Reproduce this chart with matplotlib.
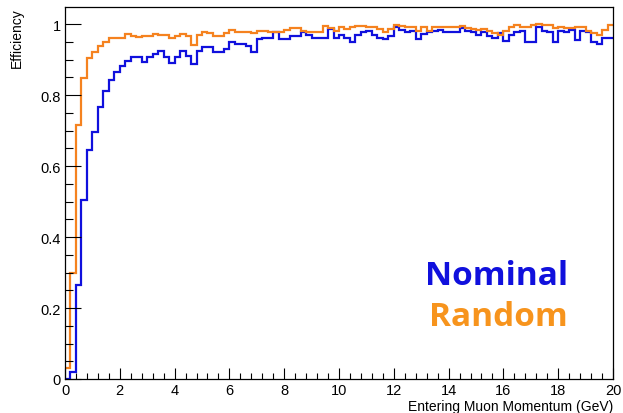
import numpy as np
import matplotlib
matplotlib.use("Agg")
import matplotlib.pyplot as plt
from matplotlib.ticker import MultipleLocator, FuncFormatter

# binning: 100 bins from 0 to 20 GeV
x_min, x_max, n_bins = 0.0, 20.0, 100

# efficiency per bin
nominal = [
    0.000, 0.020, 0.265, 0.503, 0.645, 0.696, 0.766, 0.810, 0.843, 0.866,
    0.883, 0.897, 0.906, 0.906, 0.894, 0.906, 0.915, 0.925, 0.908, 0.889,
    0.908, 0.925, 0.910, 0.887, 0.925, 0.935, 0.934, 0.922, 0.922, 0.930,
    0.950, 0.943, 0.943, 0.939, 0.922, 0.959, 0.962, 0.962, 0.978, 0.959,
    0.959, 0.965, 0.965, 0.977, 0.969, 0.962, 0.962, 0.962, 0.986, 0.962,
    0.970, 0.962, 0.950, 0.970, 0.978, 0.981, 0.970, 0.962, 0.958, 0.967,
    0.993, 0.983, 0.977, 0.981, 0.958, 0.972, 0.977, 0.981, 0.984, 0.977,
    0.977, 0.977, 0.989, 0.981, 0.977, 0.970, 0.977, 0.965, 0.962, 0.975,
    0.953, 0.969, 0.977, 0.979, 0.948, 0.948, 0.993, 0.979, 0.977, 0.948,
    0.981, 0.977, 0.984, 0.955, 0.981, 0.977, 0.948, 0.943, 0.960, 0.960,
]
random_ = [
    0.030, 0.300, 0.715, 0.848, 0.903, 0.922, 0.938, 0.949, 0.960, 0.962,
    0.960, 0.972, 0.965, 0.963, 0.966, 0.966, 0.972, 0.970, 0.968, 0.960,
    0.967, 0.972, 0.965, 0.942, 0.970, 0.978, 0.974, 0.967, 0.966, 0.976,
    0.984, 0.978, 0.977, 0.977, 0.974, 0.981, 0.981, 0.978, 0.977, 0.977,
    0.984, 0.988, 0.988, 0.981, 0.977, 0.977, 0.977, 0.995, 0.988, 0.981,
    0.991, 0.986, 0.991, 0.995, 0.995, 0.991, 0.993, 0.986, 0.977, 0.986,
    0.998, 0.995, 0.993, 0.993, 0.981, 0.993, 0.981, 0.991, 0.991, 0.991,
    0.993, 0.993, 0.995, 0.988, 0.986, 0.983, 0.986, 0.979, 0.974, 0.970,
    0.981, 0.991, 0.998, 0.993, 0.993, 0.998, 1.000, 0.998, 0.998, 0.990,
    0.991, 0.990, 0.990, 0.991, 0.991, 0.981, 0.974, 0.970, 0.984, 0.998,
]

blue = "#1010dd"
orange = "#f5821f"

plt.rcParams["font.family"] = ["Liberation Sans", "DejaVu Sans"]

fig = plt.figure(figsize=(6.23, 4.14), dpi=100)
ax = fig.add_axes([65 / 623, 1 - 380 / 414, 548 / 623, 372 / 414])

edges = np.linspace(x_min, x_max, n_bins + 1)
ax.stairs(nominal, edges, color=blue, lw=1.6, baseline=None)
ax.stairs(random_, edges, color=orange, lw=1.6, baseline=None)

ax.set_xlim(x_min, x_max)
ax.set_ylim(0, 1.048)

# ROOT-like ticks
ax.xaxis.set_major_locator(MultipleLocator(2))
ax.xaxis.set_minor_locator(MultipleLocator(0.4))
ax.yaxis.set_major_locator(MultipleLocator(0.2))
ax.yaxis.set_minor_locator(MultipleLocator(0.05))
ax.yaxis.set_major_formatter(FuncFormatter(lambda v, p: f"{v:g}"))
ax.tick_params(which="both", direction="in", top=False, right=False,
               labelsize=10.5, width=0.8)
ax.tick_params(axis="x", which="major", length=8, pad=3)
ax.tick_params(axis="x", which="minor", length=4)
ax.tick_params(axis="y", which="major", length=11.5, pad=3)
ax.tick_params(axis="y", which="minor", length=6)
for s in ax.spines.values():
    s.set_linewidth(0.9)

ax.set_xlabel("Entering Muon Momentum (GeV)", fontsize=10, ha="right",
              x=1.0, labelpad=1)
ax.set_ylabel("Efficiency", fontsize=10, ha="right", y=1.0, labelpad=12)

fig.text(568 / 623, 1 - 285 / 414, "Nominal", color=blue, fontsize=24,
         fontweight="bold", family="Open Sans", ha="right", va="baseline")
fig.text(568 / 623, 1 - 326 / 414, "Random", color="#f7941d", fontsize=24,
         fontweight="bold", family="Open Sans", ha="right", va="baseline")

fig.savefig("out.png", dpi=100)
